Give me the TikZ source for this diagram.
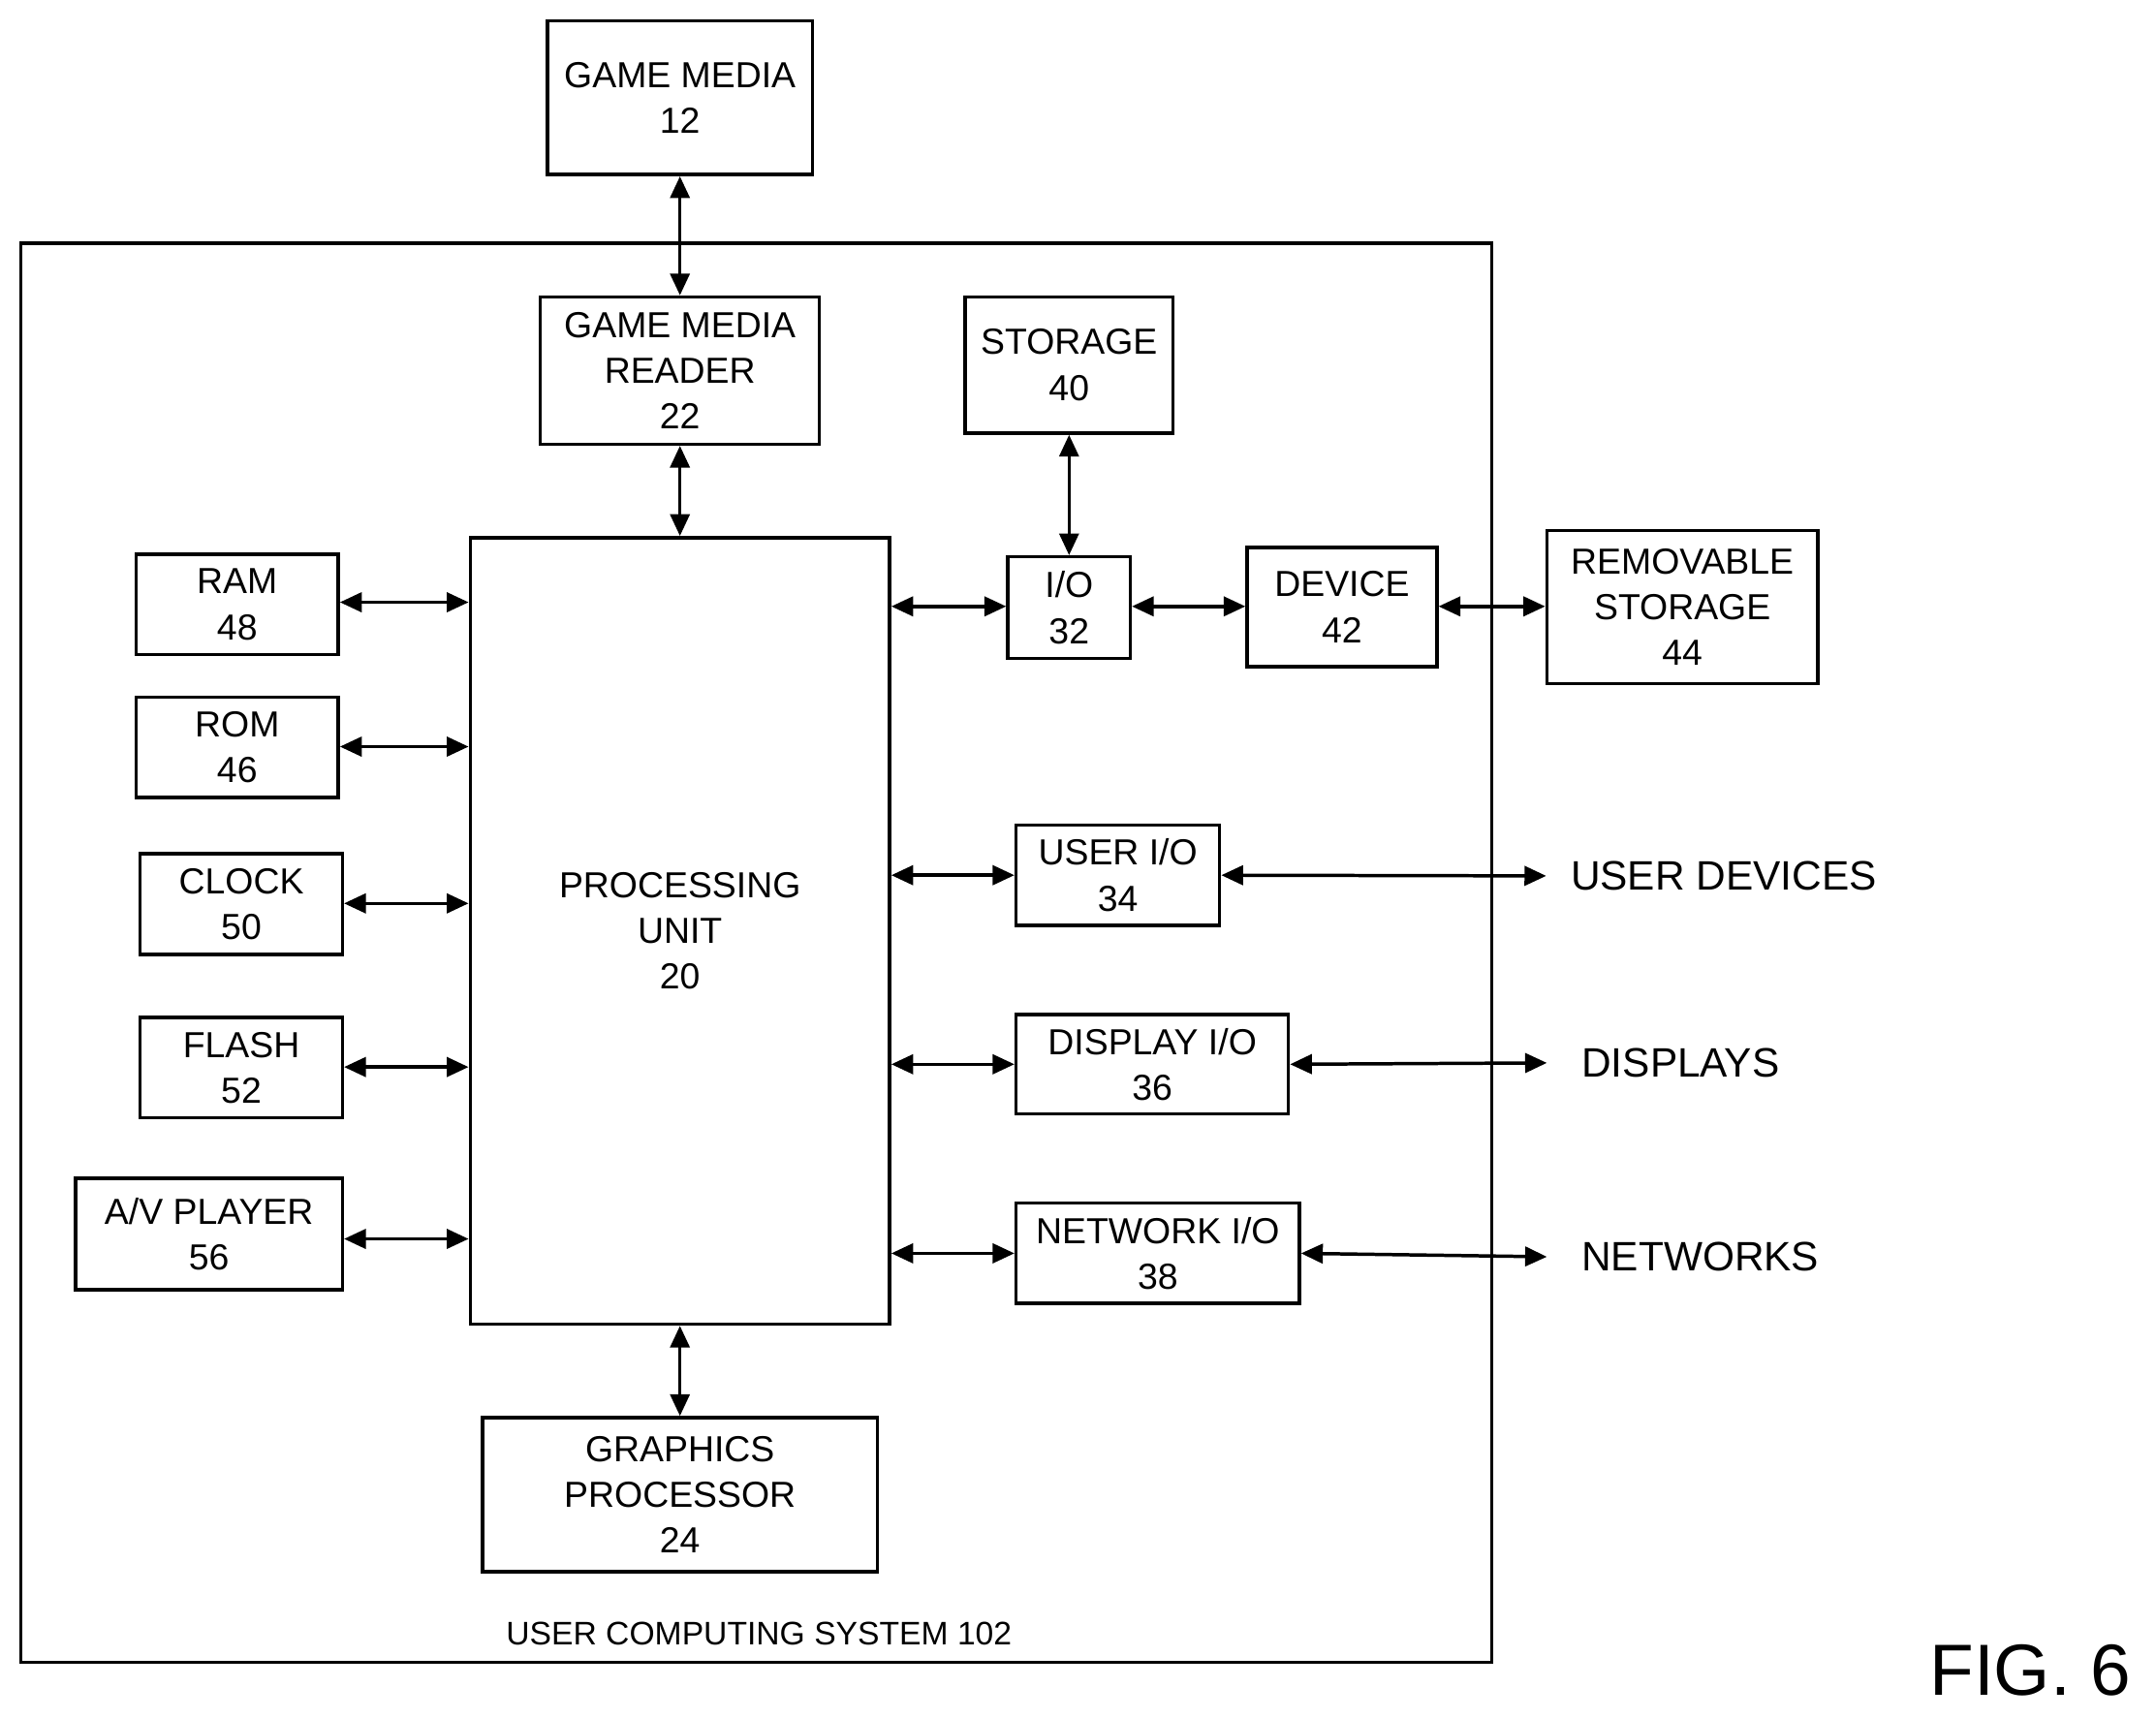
\documentclass[tikz,border=0pt]{standalone}
\usepackage{fontspec}
\setmainfont{Liberation Sans}
\usetikzlibrary{arrows.meta}
\begin{document}
\begin{tikzpicture}[x=0.02cm,y=-0.02cm,
  box/.style={draw,line width=1.4pt,inner sep=0pt,align=center,font=\fontsize{15}{19}\selectfont},
  lbl/.style={font=\fontsize{17}{20}\selectfont,anchor=west,inner sep=0pt},
  arr/.style={line width=1.4pt,{Triangle[length=9pt,width=8pt]}-{Triangle[length=9pt,width=8pt]}}]
\useasboundingbox (0,0) rectangle (1568,1250);
\newcommand\bx[6]{\node[box,minimum width={(#3-#2)*0.02cm},minimum height={(#5-#4)*0.02cm}] (#1) at ({(#2+#3)/2},{(#4+#5)/2}) {#6};}
\draw[line width=1.4pt] (15,177) rectangle (1085,1209);
\bx{gm}{398}{591}{15}{127}{GAME MEDIA\\12}
\bx{gmr}{393}{596}{216}{323}{GAME MEDIA\\READER\\22}
\bx{st}{702}{853}{216}{315}{STORAGE\\40}
\bx{ram}{99}{246}{403}{476}{RAM\\48}
\bx{rom}{99}{246}{507}{580}{ROM\\46}
\bx{clk}{102}{249}{621}{694}{CLOCK\\50}
\bx{fl}{102}{249}{740}{813}{FLASH\\52}
\bx{av}{55}{249}{857}{938}{A/V PLAYER\\56}
\bx{pu}{342}{647}{391}{963}{PROCESSING\\UNIT\\20}
\bx{io}{733}{822}{405}{479}{I/O\\32}
\bx{dev}{907}{1045}{398}{485}{DEVICE\\42}
\bx{rs}{1125}{1322}{386}{497}{REMOVABLE\\STORAGE\\44}
\bx{uio}{739}{887}{600}{673}{USER I/O\\34}
\bx{dio}{739}{937}{738}{810}{DISPLAY I/O\\36}
\bx{nio}{739}{945}{875}{948}{NETWORK I/O\\38}
\bx{gp}{351}{638}{1031}{1143}{GRAPHICS\\PROCESSOR\\24}
\node[lbl] (ud) at (1142,637) {USER DEVICES};
\node[lbl] (dp) at (1150,773) {DISPLAYS};
\node[lbl] (nw) at (1150,914) {NETWORKS};
\node[font=\fontsize{13.5}{16}\selectfont] (ucs) at (552,1188) {USER COMPUTING SYSTEM 102};
\node[font=\fontsize{30}{34}\selectfont,anchor=west,inner sep=0pt] (fig) at (1403,1215) {FIG. 6};
\draw[arr] (gm.south) -- (gmr.north);
\draw[arr] (gmr.south) -- (pu.north);
\draw[arr] (st.south) -- (io.north);
\draw[arr] (gp.north) -- (gp.north |- pu.south);
\foreach \n/\y in {ram/438,rom/543,clk/657,fl/776,av/901}
  \draw[arr] (\n.east |- 0,\y) -- (pu.west |- 0,\y);
\draw[arr] (pu.east |- 0,441) -- (io.west |- 0,441);
\draw[arr] (io.east |- 0,441) -- (dev.west |- 0,441);
\draw[arr] (dev.east |- 0,441) -- (rs.west |- 0,441);
\draw[arr] (pu.east |- uio.west) -- (uio.west);
\draw[arr] (pu.east |- dio.west) -- (dio.west);
\draw[arr] (pu.east |- nio.west) -- (nio.west);
\draw[arr] (uio.east) -- ([xshift=-0.35cm]ud.west);
\draw[arr] (dio.east) -- ([xshift=-0.5cm]dp.west);
\draw[arr] (nio.east) -- ([xshift=-0.5cm]nw.west);
\end{tikzpicture}
\end{document}
